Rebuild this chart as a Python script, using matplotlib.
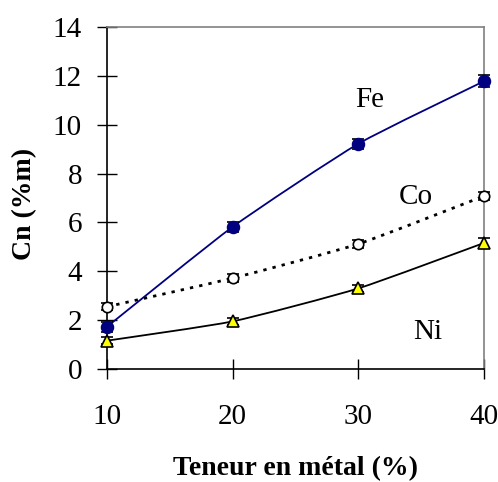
import matplotlib
matplotlib.use("Agg")
import matplotlib.pyplot as plt
from matplotlib.path import Path
from matplotlib.patches import PathPatch
import numpy as np

x = [10, 20, 30, 40]
fe = [1.73, 5.82, 9.22, 11.78]
co = [2.55, 3.72, 5.12, 7.08]
ni = [1.16, 1.95, 3.30, 5.16]
fe_err = [0.2, 0.2, 0.2, 0.25]
co_err = [0.15, 0.15, 0.15, 0.15]
ni_err = [0.15, 0.15, 0.15, 0.2]
xticks = [10, 20, 30, 40]
yticks = [0, 2, 4, 6, 8, 10, 12, 14]

plt.rcParams['font.family'] = ['Liberation Serif', 'DejaVu Serif']

fig = plt.figure(figsize=(4.98, 4.82), dpi=100)
ax = fig.add_axes([107/498, 1-369/482, (484-107)/498, (369-27)/482])


def smooth_path(xs, ys, t=0.55):
    xs = np.asarray(xs, float); ys = np.asarray(ys, float)
    verts = [(xs[0], ys[0])]
    codes = [Path.MOVETO]
    n = len(xs)
    for i in range(n - 1):
        p0 = np.array([xs[max(i-1, 0)], ys[max(i-1, 0)]])
        p1 = np.array([xs[i], ys[i]])
        p2 = np.array([xs[i+1], ys[i+1]])
        p3 = np.array([xs[min(i+2, n-1)], ys[min(i+2, n-1)]])
        c1 = p1 + t * (p2 - p0) / 6.0
        c2 = p2 - t * (p3 - p1) / 6.0
        verts += [tuple(c1), tuple(c2), tuple(p2)]
        codes += [Path.CURVE4] * 3
    return Path(verts, codes)


series = [
    (fe, fe_err, '#000080', '-', 1.3, 'o', '#000080', '#000080', 8.5),
    (co, co_err, 'black', (0, (1.2, 2.2)), 2.0, 'o', 'white', 'black', 7.5),
    (ni, ni_err, 'black', '-', 1.3, '^', '#FFFF00', 'black', 8.5),
]
for ys, err, lc, ls, lw, mk, mfc, mec, ms in series:
    ax.add_patch(PathPatch(smooth_path(x, ys), facecolor='none', edgecolor=lc,
                           linestyle=ls, linewidth=lw, clip_on=False, zorder=2))
    ax.errorbar(x, ys, yerr=err, fmt='none', ecolor='black', elinewidth=1,
                capsize=4, capthick=1.2, clip_on=False, zorder=3)
    ax.plot(x, ys, linestyle='none', marker=mk, markersize=ms, markerfacecolor=mfc,
            markeredgecolor=mec, markeredgewidth=1.2, clip_on=False, zorder=4)

ax.set_xlim(10, 40)
ax.set_ylim(0, 14)
ax.set_xticks(xticks)
ax.set_yticks(yticks)
ax.tick_params(axis='both', direction='inout', length=14, width=1, labelsize=21)
ax.tick_params(axis='x', pad=18)
ax.tick_params(axis='y', pad=11)
for s in ['left', 'bottom']:
    ax.spines[s].set_color('black')
    ax.spines[s].set_linewidth(1.2)
for s in ['top', 'right']:
    ax.spines[s].set_color('#808080')
    ax.spines[s].set_linewidth(1.2)

ax.text(30.9, 10.72, 'Fe', fontsize=21, ha='center', va='baseline')
ax.text(34.6, 6.75, 'Co', fontsize=21, ha='center', va='baseline')
ax.text(35.5, 1.23, 'Ni', fontsize=21, ha='center', va='baseline')

fig.text(25/498, 1-204/482, 'Cn (%m)', rotation=90, fontsize=20, fontweight='bold',
         ha='center', va='center')
fig.text(295/498, 1-469/482, 'Teneur en métal (%)', fontsize=20, fontweight='bold',
         ha='center', va='center')

fig.savefig('out.png', dpi=100)
